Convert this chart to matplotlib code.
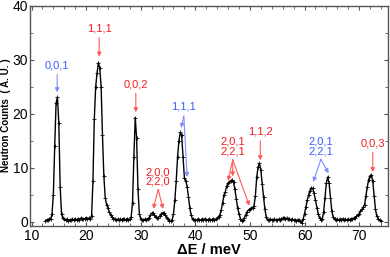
import numpy as np
import matplotlib
matplotlib.use("Agg")
import matplotlib.pyplot as plt
from matplotlib.ticker import MultipleLocator

# energy transfer bins start at 12.5 meV, 0.25 meV apart
E_START = 12.5
E_STEP = 0.25
counts = [
    0.1, 0.4, 0.3, 0.6,      # 12.5
    0.5, 1.4, 5.0, 14.0,     # 13.5
    22.0, 23.1, 18.3, 6.5,   # 14.5
    1.4, 0.7, 0.5, 0.3,      # 15.5
    0.5, 0.2, 0.4, 0.3,      # 16.5
    0.5, 0.4, 0.6, 0.3,      # 17.5
    0.6, 0.4, 0.7, 0.5,      # 18.5
    0.6, 0.5, 0.8, 0.6,      # 19.5
    0.7, 0.6, 1.0, 7.5,      # 20.5
    19.0, 25.0, 27.5, 29.5,  # 21.5
    28.5, 25.0, 16.0, 8.5,   # 22.5
    4.5, 3.2, 2.5, 1.8,      # 23.5
    1.3, 0.9, 0.6, 0.5,      # 24.5
    0.4, 0.5, 0.3, 0.5,      # 25.5
    0.4, 0.6, 0.5, 0.4,      # 26.5
    0.6, 0.4, 0.5, 0.9,      # 27.5
    3.5, 12.0, 19.3, 15.5,   # 28.5
    6.0, 1.5, 0.6, 0.4,      # 29.5
    0.3, 0.5, 0.4, 0.6,      # 30.5
    0.7, 1.2, 1.6, 1.7,      # 31.5
    1.3, 0.9, 0.7, 0.8,      # 32.5
    1.1, 1.5, 1.7, 1.6,      # 33.5
    1.3, 0.8, 0.5, 0.2,      # 34.5
    0.1, 0.3, 1.5, 4.0,      # 35.5
    7.5, 12.0, 15.0, 16.6,   # 36.5
    16.0, 12.0, 8.2, 7.6,    # 37.5
    6.5, 4.6, 2.5, 1.2,      # 38.5
    0.5, 0.3, 0.4, 0.3,      # 39.5
    0.5, 0.4, 0.3, 0.5,      # 40.5
    0.4, 0.6, 0.3, 0.4,      # 41.5
    0.5, 0.3, 0.4, 0.6,      # 42.5
    0.4, 0.5, 0.7, 0.9,      # 43.5
    1.3, 2.2, 3.5, 5.0,      # 44.5
    5.6, 6.6, 7.2, 7.4,      # 45.5
    7.6, 7.8, 7.4, 6.0,      # 46.5
    4.3, 2.6, 1.5, 0.6,      # 47.5
    0.2, 0.3, 0.8, 1.3,      # 48.5
    1.9, 2.2, 2.4, 2.5,      # 49.5
    2.6, 3.0, 4.8, 8.3,      # 50.5
    10.2, 10.9, 9.6, 7.0,    # 51.5
    4.6, 2.3, 0.9, 0.4,      # 52.5
    0.3, 0.5, 0.4, 0.3,      # 53.5
    0.5, 0.3, 0.4, 0.5,      # 54.5
    0.3, 0.6, 0.7, 0.8,      # 55.5
    0.6, 0.7, 0.5, 0.6,      # 56.5
    0.4, 0.5, 0.3, 0.4,      # 57.5
    0.2, 0.4, 0.3, 0.1,      # 58.5
    -0.2, 0.5, 1.5, 2.8,     # 59.5
    4.0, 5.0, 5.8, 6.3,      # 60.5
    6.2, 5.3, 4.0, 2.6,      # 61.5
    1.5, 0.8, 0.4, 0.5,      # 62.5
    1.8, 4.5, 7.2, 8.3,      # 63.5
    7.2, 4.5, 2.0, 0.9,      # 64.5
    0.6, 0.4, 0.5, 0.3,      # 65.5
    0.5, 0.4, 0.6, 0.4,      # 66.5
    0.5, 0.3, 0.5, 0.4,      # 67.5
    0.6, 0.5, 0.7, 0.8,      # 68.5
    1.0, 1.3, 1.5, 2.0,      # 69.5
    2.3, 2.7, 3.2, 4.8,      # 70.5
    6.5, 7.8, 8.5, 8.7,      # 71.5
    7.5, 4.8, 2.3, 1.0,      # 72.5
    0.6, 0.3, 0.2,           # 73.5
]
energy = E_START + E_STEP * np.arange(len(counts))

RED = "#ee1c24"
BLUE = "#3b5bff"
RED_ARROW = "#ff5a5a"
BLUE_ARROW = "#7d8cff"

# (label, text x, text y, color, tail (x, y), heads [(x, y), ...])
peak_labels = [
    ("0,0,1", 14.7, 29.0, "blue", (14.7, 27.3), [(14.7, 24.0)]),
    ("1,1,1", 22.4, 35.8, "red", (22.4, 34.1), [(22.4, 30.6)]),
    ("0,0,2", 29.1, 25.5, "red", (29.1, 23.8), [(29.1, 20.3)]),
    ("1,1,1", 37.8, 21.3, "blue", (37.9, 19.6), [(37.4, 17.4), (38.5, 8.3)]),
    ("2,0,0\n2,2,0", 33.2, 8.3, "red", (33.2, 6.0), [(32.3, 2.4), (34.1, 2.4)]),
    ("2,0,1\n2,2,1", 46.8, 14.0, "red", (46.85, 11.5),
     [(46.0, 7.6), (46.85, 8.4), (49.9, 3.0)]),
    ("1,1,2", 51.9, 16.7, "red", (51.9, 15.0), [(51.9, 11.4)]),
    ("2,0,1\n2,2,1", 63.0, 14.0, "blue", (63.0, 11.6), [(61.6, 7.4), (64.4, 9.0)]),
    ("0,0,3", 72.5, 14.6, "red", (72.5, 12.9), [(72.5, 9.2)]),
]

fig = plt.figure(figsize=(3.9, 2.57), dpi=100)
ax = fig.add_axes([0.077, 0.121, 0.918, 0.856])

ax.plot(energy, counts, color="black", lw=1.0, marker="+", ms=3, mew=0.6)

for text, tx, ty, col, tail, heads in peak_labels:
    tcol = RED if col == "red" else BLUE
    acol = RED_ARROW if col == "red" else BLUE_ARROW
    ax.text(tx, ty, text, color=tcol, fontsize=8, ha="center", va="center",
            linespacing=0.95, family="Liberation Sans")
    for hx, hy in heads:
        ax.annotate("", xy=(hx, hy), xytext=tail,
                    arrowprops=dict(arrowstyle="-|>", color=acol, lw=0.8,
                                    mutation_scale=6, shrinkA=0, shrinkB=0))

ax.set_xlim(9.73, 75.3)
ax.set_ylim(-0.75, 40)
ax.xaxis.set_major_locator(MultipleLocator(10))
ax.xaxis.set_minor_locator(MultipleLocator(2))
ax.yaxis.set_major_locator(MultipleLocator(10))
ax.yaxis.set_minor_locator(MultipleLocator(5))
ax.tick_params(which="both", direction="in", top=True, right=True,
               color="#555555", labelsize=10, pad=2)
ax.tick_params(axis="y", pad=1.5)
ax.tick_params(which="major", length=3, width=0.8)
ax.tick_params(which="minor", length=2, width=0.6)
for lab in ax.get_xticklabels() + ax.get_yticklabels():
    lab.set_family("Liberation Sans")
for sp in ax.spines.values():
    sp.set_color("#555555")
    sp.set_linewidth(1.0)

ax.set_xlabel("ΔE / meV", fontsize=10.5, fontweight="bold",
              family="Liberation Sans", labelpad=0)
ax.set_ylabel("Neutron Counts  ( A. U. )", fontsize=7, fontweight="bold",
              family="Liberation Sans", va="center")
ax.yaxis.set_label_coords(-0.067, 0.505)

fig.savefig("out.png", dpi=100)
